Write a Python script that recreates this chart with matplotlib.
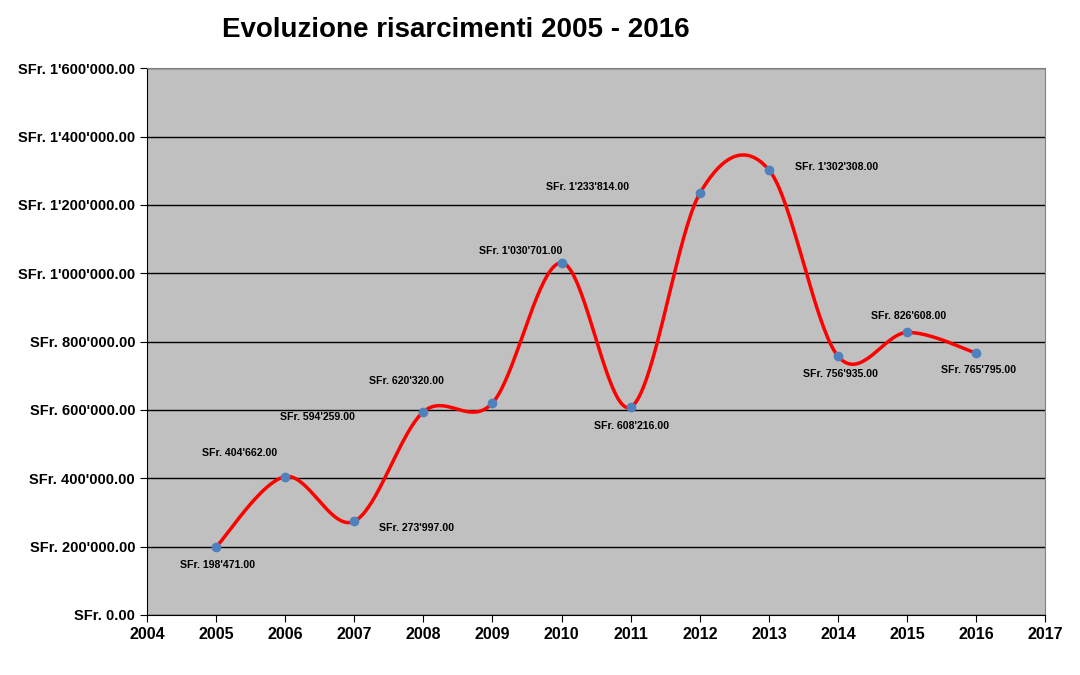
import numpy as np
import matplotlib.pyplot as plt
from matplotlib.ticker import FuncFormatter

# data
years = [2005, 2006, 2007, 2008, 2009, 2010, 2011, 2012, 2013, 2014, 2015, 2016]
amounts = [198471, 404662, 273997, 594259, 620320, 1030701, 608216,
           1233814, 1302308, 756935, 826608, 765795]
labels = ["SFr. 198'471.00", "SFr. 404'662.00", "SFr. 273'997.00",
          "SFr. 594'259.00", "SFr. 620'320.00", "SFr. 1'030'701.00",
          "SFr. 608'216.00", "SFr. 1'233'814.00", "SFr. 1'302'308.00",
          "SFr. 756'935.00", "SFr. 826'608.00", "SFr. 765'795.00"]

# label offsets in pixels (dx, dy) from each point
offsets = [(2, -18), (-45, 24), (62, -7), (-106, -5), (-86, 22), (-41, 12),
           (1, -19), (-112, 6), (68, 3), (2, -18), (1, 16), (2, -17)]


def smooth(xs, ys, n=40):
    """Excel-like smoothed line (Catmull-Rom through the points)."""
    xs = np.asarray(xs, float)
    ys = np.asarray(ys, float)
    px = np.concatenate([[xs[0]], xs, [xs[-1]]])
    py = np.concatenate([[ys[0]], ys, [ys[-1]]])
    outx, outy = [], []
    t = np.linspace(0, 1, n)
    for i in range(1, len(px) - 2):
        p0 = np.array([px[i], py[i]])
        p3 = np.array([px[i + 1], py[i + 1]])
        c1 = p0 + (np.array([px[i + 1], py[i + 1]]) - np.array([px[i - 1], py[i - 1]])) / 6
        c2 = p3 - (np.array([px[i + 2], py[i + 2]]) - np.array([px[i], py[i]])) / 6
        b = ((1 - t) ** 3)[:, None] * p0 + (3 * (1 - t) ** 2 * t)[:, None] * c1 \
            + (3 * (1 - t) * t ** 2)[:, None] * c2 + (t ** 3)[:, None] * p3
        outx.extend(b[:, 0])
        outy.extend(b[:, 1])
    return outx, outy


def sfr(v, pos):
    s = f"{v:,.2f}".replace(",", "'")
    return f"SFr. {s}"


plt.rcParams['font.family'] = ['Liberation Sans', 'DejaVu Sans']

fig = plt.figure(figsize=(10.8, 6.75), dpi=100)
ax = fig.add_axes([0.136, 0.089, 0.832, 0.810])
ax.set_facecolor('#C0C0C0')

sx, sy = smooth(years, amounts)
ax.plot(sx, sy, color='#FF0000', lw=2.5, zorder=3)
ax.plot(years, amounts, 'o', color='#4F81BD', ms=6, zorder=4)

for x, y, lab, (dx, dy) in zip(years, amounts, labels, offsets):
    ax.annotate(lab, (x, y), xytext=(dx, dy), textcoords='offset pixels',
                ha='center', va='center', fontsize=7.6, fontweight='bold')

ax.set_xlim(2004, 2017)
ax.set_ylim(0, 1600000)
ax.set_xticks(range(2004, 2018))
ax.set_yticks(range(0, 1600001, 200000))
ax.yaxis.set_major_formatter(FuncFormatter(sfr))
ax.grid(axis='y', color='black', lw=1)
ax.set_axisbelow(True)
ax.tick_params(direction='out', length=5)
ax.tick_params(axis='y', labelsize=10.5)
ax.tick_params(axis='x', labelsize=11.5)
for lab in ax.get_xticklabels() + ax.get_yticklabels():
    lab.set_fontweight('bold')
for side in ['top', 'right']:
    ax.spines[side].set_color('#808080')
ax.spines['left'].set_color('black')
ax.spines['bottom'].set_color('black')

fig.text(0.422, 0.955, "Evoluzione risarcimenti 2005 - 2016", ha='center',
         va='center', fontsize=20, fontweight='bold')

fig.savefig('out.png', dpi=100, facecolor='white')
